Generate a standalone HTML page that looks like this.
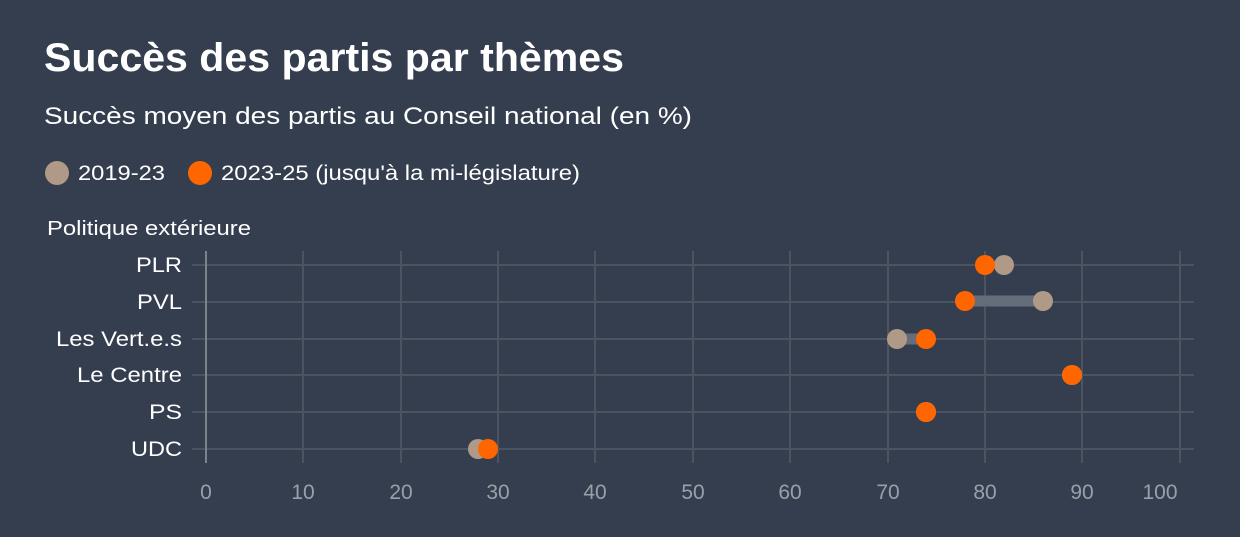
<!DOCTYPE html>
<html><head><meta charset="utf-8"><style>
html,body{margin:0;padding:0;background:#343e4f;width:1240px;height:537px;overflow:hidden;font-family:"Liberation Sans",Arial,sans-serif;}
</style></head><body>
<svg width="1240" height="537" xmlns="http://www.w3.org/2000/svg" font-family="Liberation Sans, Arial, sans-serif">
<rect width="1240" height="537" fill="#343e4f"/>
<text x="44" y="71" font-size="40" font-weight="bold" fill="#fff" textLength="580" lengthAdjust="spacingAndGlyphs">Succès des partis par thèmes</text>
<text x="44" y="124" font-size="24" fill="#fff" textLength="648" lengthAdjust="spacingAndGlyphs">Succès moyen des partis au Conseil national (en %)</text>
<circle cx="57" cy="173" r="12" fill="#b09a87"/>
<text x="78" y="180" font-size="21" fill="#fff" textLength="87" lengthAdjust="spacingAndGlyphs">2019-23</text>
<circle cx="200" cy="173" r="12" fill="#ff6600"/>
<text x="221" y="180" font-size="21" fill="#fff" textLength="359" lengthAdjust="spacingAndGlyphs">2023-25 (jusqu'à la mi-législature)</text>
<text x="47" y="235" font-size="20" fill="#fff" textLength="204" lengthAdjust="spacingAndGlyphs">Politique extérieure</text>
<g stroke="#4d5460" stroke-width="2">
<line x1="303" y1="251" x2="303" y2="463"/><line x1="401" y1="251" x2="401" y2="463"/>
<line x1="498" y1="251" x2="498" y2="463"/><line x1="595" y1="251" x2="595" y2="463"/>
<line x1="693" y1="251" x2="693" y2="463"/><line x1="790" y1="251" x2="790" y2="463"/>
<line x1="888" y1="251" x2="888" y2="463"/><line x1="985" y1="251" x2="985" y2="463"/>
<line x1="1082" y1="251" x2="1082" y2="463"/><line x1="1180" y1="251" x2="1180" y2="463"/>
<line x1="192" y1="265" x2="1194" y2="265"/><line x1="192" y1="302" x2="1194" y2="302"/>
<line x1="192" y1="339" x2="1194" y2="339"/><line x1="192" y1="375" x2="1194" y2="375"/>
<line x1="192" y1="412" x2="1194" y2="412"/><line x1="192" y1="449" x2="1194" y2="449"/>
</g>
<line x1="206" y1="251" x2="206" y2="463" stroke="#7d838c" stroke-width="2"/>
<g font-size="21" fill="#fff" text-anchor="end">
<text x="182" y="272" textLength="46" lengthAdjust="spacingAndGlyphs">PLR</text>
<text x="182" y="309" textLength="45" lengthAdjust="spacingAndGlyphs">PVL</text>
<text x="182" y="346" textLength="126" lengthAdjust="spacingAndGlyphs">Les Vert.e.s</text>
<text x="182" y="382" textLength="105" lengthAdjust="spacingAndGlyphs">Le Centre</text>
<text x="182" y="419" textLength="33" lengthAdjust="spacingAndGlyphs">PS</text>
<text x="182" y="456" textLength="51" lengthAdjust="spacingAndGlyphs">UDC</text>
</g>
<g font-size="21" fill="#9aa0a8" text-anchor="middle">
<text x="206" y="499">0</text><text x="303" y="499">10</text><text x="401" y="499">20</text><text x="498" y="499">30</text>
<text x="595" y="499">40</text><text x="693" y="499">50</text><text x="790" y="499">60</text><text x="888" y="499">70</text>
<text x="985" y="499">80</text><text x="1082" y="499">90</text><text x="1160" y="499">100</text>
</g>
<g stroke="#656d7a" stroke-width="11">
<line x1="965" y1="301" x2="1043" y2="301"/><line x1="897" y1="339" x2="926" y2="339"/>
</g>
<g fill="#b09a87">
<circle cx="1004" cy="265" r="10"/><circle cx="1043" cy="301" r="10"/><circle cx="897" cy="339" r="10"/>
<circle cx="1072" cy="375" r="10"/><circle cx="926" cy="412" r="10"/><circle cx="478" cy="449" r="10"/>
</g>
<g fill="#ff6600">
<circle cx="985" cy="265" r="10"/><circle cx="965" cy="301" r="10"/><circle cx="926" cy="339" r="10"/>
<circle cx="1072" cy="375" r="10"/><circle cx="926" cy="412" r="10"/><circle cx="488" cy="449" r="10"/>
</g>
</svg>
</body></html>
